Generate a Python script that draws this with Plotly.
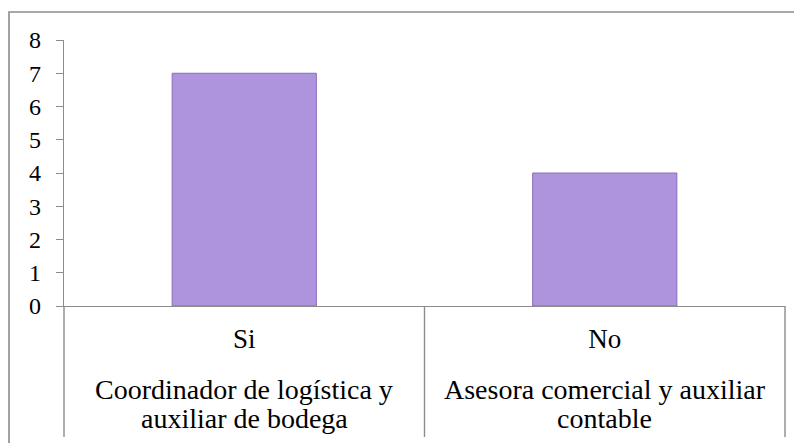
import plotly.graph_objects as go

# ---- data ----
inner_labels = ["Si", "No"]
outer_labels = [
    ["Coordinador de logística y", "auxiliar de bodega"],
    ["Asesora comercial y auxiliar", "contable"],
]
values = [7, 4]
y_ticks = [0, 1, 2, 3, 4, 5, 6, 7, 8]

W, H = 802, 443
OFF = 8  # page body margin offset
# plot area in page pixels
PX0, PX1, PY0, PY1 = 64, 785, 40, 306
L = PX0 - OFF
T = PY0 - OFF
R = W - (PX1 - OFF)
B = H - (PY1 - OFF)
plot_h = PY1 - PY0
plot_w = PX1 - PX0

def py(ypx):
    """page pixel y (from top) -> paper y"""
    return (PY1 - ypx) / plot_h

def px(xpx):
    return (xpx - PX0) / plot_w

FONT = "Liberation Serif"
GRAY = "#8c8c8c"

fig = go.Figure()
fig.add_trace(go.Bar(
    x=inner_labels, y=values,
    marker=dict(color="#ad94dc", line=dict(color="#8b6db9", width=1)),
    width=0.4,
))

shapes = []
# outer border of chart
shapes.append(dict(type="rect", xref="paper", yref="paper",
                   x0=px(9), x1=px(812), y0=py(455), y1=py(12),
                   line=dict(color=GRAY, width=1.6), layer="below"))
# category dividers extending below axis
for xd in [0, 0.5, 1]:
    shapes.append(dict(type="line", xref="x domain", yref="paper",
                       x0=xd, x1=xd, y0=0, y1=py(437),
                       line=dict(color=GRAY, width=1.4)))

annotations = []
for cat, lines in zip(inner_labels, outer_labels):
    for i, txt in enumerate(lines):
        annotations.append(dict(
            x=cat, xref="x", y=py(389 + 29 * i), yref="paper",
            text=txt, showarrow=False, yanchor="middle", xanchor="center",
            font=dict(family=FONT, size=28, color="#000000")))

fig.update_layout(
    width=W, height=H,
    margin=dict(l=L, r=R, t=T, b=B),
    paper_bgcolor="white", plot_bgcolor="white",
    showlegend=False,
    shapes=shapes, annotations=annotations,
    font=dict(family=FONT, color="#000000"),
    xaxis=dict(
        type="category", showgrid=False, zeroline=False,
        showline=True, linecolor=GRAY, linewidth=1.4,
        ticks="", tickfont=dict(family=FONT, size=27, color="#000000"),
        ticklabelstandoff=8, fixedrange=True,
    ),
    yaxis=dict(
        range=[0, 8], tickvals=y_ticks, showgrid=False, zeroline=False,
        showline=True, linecolor=GRAY, linewidth=1.4,
        ticks="outside", ticklen=7, tickcolor=GRAY, tickwidth=1.4,
        tickfont=dict(family=FONT, size=24, color="#000000"),
        ticklabelstandoff=10,
    ),
)

fig.write_html("out.html")
